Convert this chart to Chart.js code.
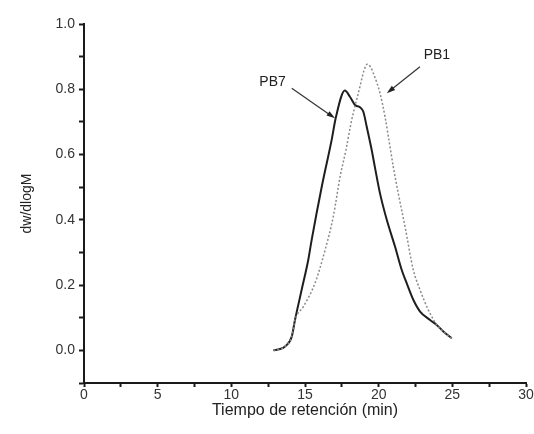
<!DOCTYPE html>
<html>
<head>
<meta charset="utf-8">
<script src="https://cdn.jsdelivr.net/npm/chart.js@4"></script>
<style>
  html, body { margin: 0; padding: 0; background: #fff; }
  #wrap { width: 534px; height: 434px; position: relative; }
</style>
</head>
<body>
<div id="wrap"><canvas id="gpcChart"></canvas></div>
<script>
// Values
const pb7Time   = [12.85, 13.3, 13.64, 14.1, 14.32, 14.77, 15.22, 15.45, 16.13, 16.81, 17.1, 17.71, 18.05, 18.39, 18.73, 18.96, 19.19, 19.53, 19.75, 20.09, 20.55, 21.11, 21.56, 21.9, 22.35, 22.81, 23.49, 23.94, 24.39, 24.96];
const pb7Values = [0.0, 0.004, 0.012, 0.042, 0.093, 0.185, 0.277, 0.338, 0.50, 0.645, 0.715, 0.796, 0.777, 0.752, 0.745, 0.731, 0.685, 0.613, 0.56, 0.481, 0.40, 0.318, 0.247, 0.206, 0.155, 0.119, 0.093, 0.078, 0.058, 0.037];

const pb1Time   = [12.85, 13.3, 13.64, 14.1, 14.32, 14.89, 15.68, 16.36, 16.92, 17.38, 17.78, 18.17, 18.73, 19.0, 19.23, 19.45, 19.64, 20.09, 20.43, 20.77, 20.99, 21.33, 21.79, 22.35, 22.81, 23.37, 23.94, 24.45, 24.96];
const pb1Values = [0.0, 0.004, 0.012, 0.042, 0.093, 0.134, 0.206, 0.307, 0.41, 0.532, 0.614, 0.706, 0.808, 0.857, 0.877, 0.868, 0.849, 0.788, 0.716, 0.624, 0.563, 0.481, 0.379, 0.247, 0.185, 0.124, 0.078, 0.055, 0.037];

const xLabelStep = 5;     // labelled x ticks
const yLabelStep = 0.2;   // labelled y ticks

// Labels with arrows, in data coordinates
const labels = [
    { text: 'PB7', tx: 12.8, ty: 0.822, from: [14.1, 0.803], to: [17.04, 0.711] },
    { text: 'PB1', tx: 23.95, ty: 0.905, from: [22.8, 0.869], to: [20.55, 0.788] }
];

function toPoints(xs, ys) {
    return xs.map((x, i) => ({ x: x, y: ys[i] }));
}

// Draws the text labels and their arrows
const arrowLabels = {
    id: 'arrowLabels',
    afterDatasetsDraw(chart) {
        const ctx = chart.ctx;
        const xs = chart.scales.x;
        const ys = chart.scales.y;
        ctx.save();
        labels.forEach(l => {
            ctx.fillStyle = '#222';
            ctx.font = '14px "Liberation Sans", Arial, sans-serif';
            ctx.textAlign = 'center';
            ctx.textBaseline = 'middle';
            ctx.fillText(l.text, xs.getPixelForValue(l.tx), ys.getPixelForValue(l.ty));

            const x1 = xs.getPixelForValue(l.from[0]), y1 = ys.getPixelForValue(l.from[1]);
            const x2 = xs.getPixelForValue(l.to[0]), y2 = ys.getPixelForValue(l.to[1]);
            const ang = Math.atan2(y2 - y1, x2 - x1);
            ctx.strokeStyle = '#333';
            ctx.lineWidth = 1.2;
            ctx.beginPath();
            ctx.moveTo(x1, y1);
            ctx.lineTo(x2 - 6 * Math.cos(ang), y2 - 6 * Math.sin(ang));
            ctx.stroke();
            ctx.fillStyle = '#222';
            ctx.beginPath();
            ctx.moveTo(x2, y2);
            ctx.lineTo(x2 - 9 * Math.cos(ang - 0.3), y2 - 9 * Math.sin(ang - 0.3));
            ctx.lineTo(x2 - 9 * Math.cos(ang + 0.3), y2 - 9 * Math.sin(ang + 0.3));
            ctx.closePath();
            ctx.fill();
        });
        ctx.restore();
    }
};

const ctx = document.getElementById('gpcChart').getContext('2d');
new Chart(ctx, {
    type: 'line',
    data: {
        datasets: [{
            label: 'PB1',
            data: toPoints(pb1Time, pb1Values),
            borderColor: '#8a8a8a',
            borderWidth: 1.5,
            borderDash: [2, 2],
            pointRadius: 0,
            cubicInterpolationMode: 'monotone'
        }, {
            label: 'PB7',
            data: toPoints(pb7Time, pb7Values),
            borderColor: '#1e1e1e',
            borderWidth: 2,
            pointRadius: 0,
            cubicInterpolationMode: 'monotone'
        }]
    },
    options: {
        responsive: true,
        maintainAspectRatio: false,
        animation: false,
        layout: { padding: { top: 24, right: 8, left: 0, bottom: 0 } },
        plugins: {
            legend: { display: false },
            tooltip: { enabled: false }
        },
        scales: {
            x: {
                type: 'linear',
                min: 0,
                max: 30,
                afterFit: s => { s.height = 51; },
                border: { color: '#1a1a1a', width: 2 },
                grid: { drawOnChartArea: false, drawTicks: true, tickLength: 4, tickColor: '#1a1a1a', tickWidth: 2 },
                ticks: {
                    stepSize: 2.5,
                    padding: 0,
                    maxRotation: 0,
                    autoSkip: false,
                    color: '#333',
                    font: { family: '"Liberation Sans", Arial, sans-serif', size: 14 },
                    callback: v => (Math.abs(v / xLabelStep - Math.round(v / xLabelStep)) < 1e-6 ? String(v) : '')
                },
                title: {
                    display: true,
                    text: 'Tiempo de retención (min)',
                    color: '#222',
                    font: { family: '"Liberation Sans", Arial, sans-serif', size: 16 },
                    padding: { top: 0, bottom: 14 }
                }
            },
            y: {
                min: -0.1,
                max: 1.0,
                afterFit: s => { s.width = 84; },
                border: { color: '#1a1a1a', width: 2 },
                grid: { drawOnChartArea: false, drawTicks: true, tickLength: 5, tickColor: '#1a1a1a', tickWidth: 2 },
                ticks: {
                    stepSize: 0.1,
                    padding: 4,
                    autoSkip: false,
                    color: '#333',
                    font: { family: '"Liberation Sans", Arial, sans-serif', size: 14 },
                    callback: v => {
                        const k = Math.round(v * 10);
                        return (k >= 0 && k % Math.round(yLabelStep * 10) === 0) ? (k / 10).toFixed(1) : '';
                    }
                },
                title: {
                    display: true,
                    text: 'dw/dlogM',
                    color: '#222',
                    font: { family: '"Liberation Sans", Arial, sans-serif', size: 14 },
                    padding: { top: 19, bottom: 0 }
                }
            }
        }
    },
    plugins: [arrowLabels]
});
</script>
</body>
</html>
